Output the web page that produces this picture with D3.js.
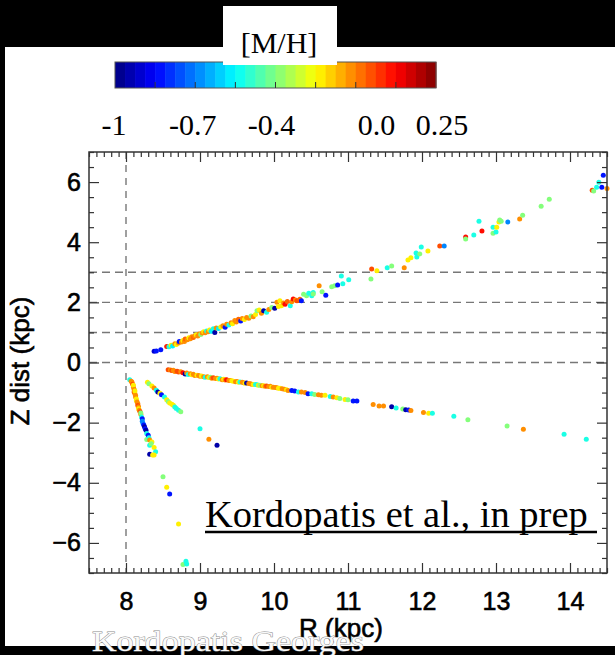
<!DOCTYPE html>
<html><head><meta charset="utf-8">
<script src="https://cdn.jsdelivr.net/npm/d3@7"></script>
<style>html,body{margin:0;padding:0;background:#000;}svg{display:block;}</style>
</head><body>
<svg id="c" width="615" height="655"></svg>
<script>
// ---------- DATA ([R kpc, Z kpc, [M/H]]) ----------
const upperBranch = [
[8.38,0.37,-0.9],[8.41,0.38,-0.82],[8.47,0.42,-0.82],[8.55,0.53,0.06],[8.58,0.52,-0.5],[8.61,0.57,-0.2],[8.63,0.55,-0.55],
[8.66,0.62,-0.08],[8.68,0.60,-0.2],[8.71,0.65,-0.08],[8.72,0.70,-0.82],[8.75,0.68,-0.08],[8.77,0.73,-0.2],[8.79,0.70,-0.08],
[8.80,0.78,-0.03],[8.83,0.76,-0.08],[8.85,0.82,-0.2],[8.87,0.79,-0.08],[8.89,0.86,-0.08],[8.91,0.83,-0.03],[8.93,0.89,-0.08],
[8.95,0.92,-0.2],[8.97,0.88,-0.08],[8.99,0.95,-0.08],[9.01,0.93,-0.37],[9.03,0.98,-0.08],[9.05,1.02,-0.2],[9.07,0.99,-0.08],
[9.09,1.05,-0.5],[9.11,1.02,-0.08],[9.13,1.08,-0.2],[9.15,1.04,-0.55],[9.18,1.12,-0.5],[9.20,1.00,-0.95],[9.22,1.15,-0.08],
[9.25,1.13,-0.55],[9.28,1.18,-0.2],[9.31,1.22,-0.08],[9.34,1.17,-0.82],[9.36,1.27,-0.08],[9.39,1.25,-0.5],[9.42,1.32,-0.08],
[9.44,1.29,-0.2],[9.47,1.40,-0.08],[9.49,1.35,-0.08],[9.52,1.44,-0.03],[9.55,1.38,-0.82],[9.57,1.46,-0.08],[9.60,1.43,-0.2],
[9.63,1.50,-0.08],[9.66,1.47,-0.08],[9.69,1.55,-0.37],[9.72,1.52,-0.08],[9.75,1.60,-0.2],[9.77,1.72,-0.37],[9.80,1.75,-0.2],
[9.83,1.64,-0.08],[9.86,1.72,-0.95],[9.90,1.67,-0.5],[9.93,1.76,-0.08],[9.97,1.83,-0.37],[10.01,1.80,-0.95],[10.04,2.00,-0.08],
[10.06,1.86,-0.2],[10.08,2.05,-0.2],[10.10,1.89,-0.2],[10.13,1.98,-0.08],[10.15,1.94,0.08],[10.18,2.03,-0.03],[10.22,1.89,-0.5],
[10.24,2.02,-0.08],[10.26,2.11,0.08],[10.29,2.08,-0.08],[10.31,2.05,0.0],[10.35,2.10,-0.03],[10.37,2.05,-0.82],[10.40,2.27,-0.37],
[10.44,2.22,-0.37],[10.47,2.30,-0.5],[10.51,2.22,-0.5],[10.53,2.33,-0.5],[10.53,2.28,-0.37],[10.61,2.55,-0.08],[10.65,2.35,-0.37],
[10.70,2.24,-0.82],[10.78,2.52,-0.37],[10.82,2.55,-0.37],[10.86,2.58,-0.82],[10.91,2.88,-0.5],[10.93,2.62,-0.5],[11.01,2.75,-0.5],
[11.31,2.78,-0.37],[11.32,3.11,0.0],[11.39,3.05,-0.2],[11.53,3.15,-0.5],[11.59,3.21,-0.37],[11.76,3.15,-0.08],[11.81,3.41,-0.2],
[11.85,3.48,-0.2],[11.92,3.64,-0.5],[11.93,3.51,-0.5],[11.97,3.61,-0.37],[11.99,3.84,-0.5],[12.08,3.71,-0.2],[12.24,3.87,0.0],
[12.30,3.87,-0.68],[12.59,4.17,0.08],[12.59,4.11,-0.37],[12.70,4.24,-0.5],[12.77,4.70,-0.5],[12.81,4.37,0.08],[12.96,4.50,-0.5],
[12.96,4.30,-0.37],[13.00,4.34,-0.5],[13.01,4.50,-0.2],[13.04,4.67,-0.2],[13.05,4.74,-0.37],[13.07,4.70,-0.37],[13.16,4.67,-0.68],
[13.32,4.77,-0.08],[13.36,4.90,-0.37],[13.61,5.20,-0.37],[13.72,5.43,-0.37],[14.30,5.73,0.0],[14.32,5.70,-0.37],[14.36,5.83,-0.5],
[14.39,5.99,-0.5],[14.43,5.83,-0.82],[14.45,6.23,-0.82],[14.50,5.79,-0.08]
];
const lowerBranch = [
[8.57,-0.24,0.0],[8.60,-0.25,-0.08],[8.62,-0.27,0.0],[8.64,-0.26,-0.08],[8.66,-0.30,-0.08],[8.69,-0.29,0.0],[8.71,-0.32,0.0],
[8.74,-0.31,-0.08],[8.77,-0.34,0.08],[8.80,-0.38,-0.95],[8.82,-0.35,-0.08],[8.84,-0.40,-0.5],[8.87,-0.37,-0.08],[8.89,-0.41,-0.2],
[8.91,-0.39,-0.08],[8.93,-0.43,-0.08],[8.96,-0.42,-0.2],[8.98,-0.43,-0.08],[9.00,-0.46,-0.08],[9.02,-0.45,-0.2],[9.05,-0.47,-0.08],
[9.07,-0.49,-0.5],[9.10,-0.47,-0.08],[9.12,-0.50,-0.2],[9.14,-0.49,-0.37],[9.16,-0.52,-0.08],[9.18,-0.51,0.0],[9.21,-0.53,-0.08],
[9.23,-0.52,-0.08],[9.25,-0.55,-0.2],[9.27,-0.54,-0.5],[9.30,-0.57,-0.08],[9.32,-0.56,-0.2],[9.34,-0.58,-0.08],[9.36,-0.57,0.08],
[9.39,-0.60,-0.08],[9.41,-0.60,-0.08],[9.43,-0.61,-0.2],[9.45,-0.62,-0.2],[9.48,-0.64,-0.08],[9.50,-0.63,-0.08],[9.52,-0.66,-0.2],
[9.54,-0.65,-0.5],[9.57,-0.66,-0.08],[9.59,-0.67,-0.08],[9.61,-0.69,-0.2],[9.63,-0.68,-0.95],[9.66,-0.70,-0.08],[9.68,-0.71,-0.08],
[9.70,-0.72,-0.08],[9.72,-0.73,-0.2],[9.75,-0.73,-0.5],[9.77,-0.74,-0.5],[9.79,-0.76,-0.2],[9.81,-0.76,-0.37],[9.84,-0.77,-0.08],
[9.86,-0.77,-0.2],[9.88,-0.79,-0.08],[9.90,-0.78,0.0],[9.93,-0.80,-0.08],[9.95,-0.79,-0.08],[9.97,-0.82,-0.2],[9.99,-0.82,-0.08],
[10.02,-0.83,-0.08],[10.04,-0.84,-0.08],[10.06,-0.86,-0.2],[10.08,-0.86,-0.2],[10.11,-0.87,-0.08],[10.14,-0.89,-0.08],[10.17,-0.91,-0.2],
[10.19,-0.93,-0.08],[10.24,-0.93,-0.82],[10.28,-0.95,-0.82],[10.33,-0.98,-0.5],[10.37,-0.98,-0.08],[10.42,-1.00,-0.08],
[10.46,-1.04,-0.82],[10.51,-1.04,-0.5],[10.55,-1.06,-0.37],[10.60,-1.07,-0.08],[10.64,-1.09,-0.08],[10.69,-1.09,-0.2],
[10.76,-1.13,-0.5],[10.80,-1.15,-0.08],[10.85,-1.17,-0.2],[10.89,-1.20,-0.37],[10.96,-1.23,-0.2],[11.00,-1.24,-0.37],
[11.07,-1.28,-0.82],[11.12,-1.28,-0.82],
[11.34,-1.40,-0.08],[11.42,-1.45,-0.08],[11.48,-1.45,-0.08],[11.59,-1.47,-0.95],[11.65,-1.51,-0.5],[11.74,-1.55,-0.37],
[11.78,-1.57,-0.95],[11.82,-1.58,-0.82],[11.85,-1.60,-0.08],[12.02,-1.66,-0.08],[12.09,-1.69,-0.2],[12.14,-1.69,-0.5],
[12.43,-1.79,-0.5],[12.62,-1.90,-0.37],[13.15,-2.11,-0.37],[13.37,-2.22,-0.08],[13.92,-2.39,-0.5],[14.22,-2.55,-0.5]
];
const steepFan = [
[8.05,-0.57,-0.5],[8.07,-0.62,-0.08],[8.08,-0.65,-0.08],[8.09,-0.72,0.0],[8.10,-0.82,-0.08],[8.10,-0.76,-0.2],[8.11,-0.90,-0.08],
[8.11,-0.98,0.0],[8.12,-1.04,-0.08],[8.12,-0.95,-0.2],[8.13,-1.10,-0.08],[8.13,-1.15,-0.08],[8.14,-1.21,-0.2],[8.14,-1.26,-0.2],
[8.15,-1.31,-0.08],[8.16,-1.37,-0.08],[8.16,-1.43,0.0],[8.17,-1.48,-0.08],[8.17,-1.54,-0.2],[8.18,-1.59,-0.08],[8.19,-1.64,0.0],
[8.20,-1.72,-0.08],[8.20,-1.68,-0.37],[8.21,-1.81,-0.5],[8.22,-1.87,-0.82],[8.22,-1.95,-0.68],[8.23,-2.03,-0.68],[8.24,-2.08,-0.82],
[8.25,-2.14,-0.95],[8.26,-2.20,-0.82],[8.27,-2.25,-0.95],[8.28,-2.36,-0.5],[8.30,-2.42,-0.82],[8.28,-2.56,-0.37],[8.31,-2.50,-0.5],
[8.32,-2.58,-0.08],[8.35,-2.64,-0.2],[8.32,-2.75,-0.5],[8.34,-2.70,-0.37],[8.38,-2.83,-0.2],[8.40,-2.97,-0.5],[8.32,-3.05,-0.95],
[8.36,-3.08,-0.2],[8.38,-3.08,-0.2]
];
const secondFan = [
[8.29,-0.66,-0.2],[8.31,-0.71,-0.37],[8.35,-0.78,-0.2],[8.38,-0.85,-0.08],[8.41,-0.92,-0.5],[8.43,-0.98,-0.95],[8.46,-1.02,-0.2],
[8.48,-1.07,-0.82],[8.52,-1.15,-0.5],[8.55,-1.24,-0.2],[8.57,-1.30,-0.37],[8.59,-1.35,-0.2],[8.62,-1.39,-0.2],[8.64,-1.42,-0.2],
[8.66,-1.48,-0.5],[8.68,-1.53,-0.5],[8.71,-1.59,-0.5],[8.74,-1.64,-0.37]
];
const isolated = [
[9.00,-2.20,-0.5],[9.12,-2.55,-0.08],[9.23,-2.75,-0.95],[8.50,-3.80,-0.37],[8.55,-4.15,-0.2],[8.59,-4.37,-0.82],
[8.71,-5.37,-0.2],[8.77,-6.72,-0.37],[8.81,-6.61,-0.5],[8.82,-6.70,-0.5]
];
const xTickValues = [8, 9, 10, 11, 12, 13, 14];
const yTickValues = [-6, -4, -2, 0, 2, 4, 6];
const refLinesZ = [0, 1, 2, 3];
const refLineR = 8;
const cbarLabels = [-1, -0.7, -0.4, 0.0, 0.25];
const cbarLabelText = ["-1", "-0.7", "-0.4", "0.0", "0.25"];
const mhDomain = [-1, 0.25];

// ---------- DRAW ----------
const svg = d3.select("#c");
svg.append("rect").attr("width",615).attr("height",655).attr("fill","#000");
svg.append("rect").attr("x",5).attr("y",47).attr("width",610).attr("height",599).attr("fill","#fff");

function jet(t){
  t = Math.max(0, Math.min(1, t));
  const c = v => Math.round(255*Math.max(0, Math.min(1, v)));
  return `rgb(${c(1.5-Math.abs(4*t-3))},${c(1.5-Math.abs(4*t-2))},${c(1.5-Math.abs(4*t-1))})`;
}
const tScale = d3.scaleLinear().domain(mhDomain).range([0,1]);
const color = v => jet(tScale(v));

// colorbar
const cbX = d3.scaleLinear().domain(mhDomain).range([115, 436]);
const nBands = 32;
const bandW = (cbX.range()[1]-cbX.range()[0])/nBands;
const cb = svg.append("g");
cb.selectAll("rect.band").data(d3.range(nBands)).join("rect")
  .attr("x", i => cbX.range()[0] + i*bandW).attr("y", 62).attr("width", bandW+0.5).attr("height", 26)
  .attr("fill", i => jet((i+0.5)/nBands));
cb.append("rect").attr("x",115).attr("y",62).attr("width",321).attr("height",26)
  .attr("fill","none").attr("stroke","#555").attr("stroke-width",1);
cb.selectAll("line.ct").data(d3.range(1,8)).join("line")
  .attr("x1", i => cbX(mhDomain[0] + (mhDomain[1]-mhDomain[0])*i/8))
  .attr("x2", i => cbX(mhDomain[0] + (mhDomain[1]-mhDomain[0])*i/8))
  .attr("y1", 82).attr("y2", 88).attr("stroke","#333").attr("stroke-width",1);
const cbLab = d3.scaleLinear().domain(mhDomain).range([114, 442]);
svg.selectAll("text.cbl").data(cbarLabels).join("text")
  .attr("x", d => cbLab(d)).attr("y", 135).attr("text-anchor","middle")
  .attr("font-family","'Liberation Serif', serif").attr("font-size",30).attr("fill","#000")
  .text((d,i) => cbarLabelText[i]);
// title box
svg.append("rect").attr("x",223).attr("y",6).attr("width",114).attr("height",59).attr("fill","#fff");
svg.append("text").attr("x",279).attr("y",53).attr("text-anchor","middle")
  .attr("font-family","'Liberation Serif', serif").attr("font-size",30).attr("fill","#000").text("[M/H]");

// plot
const L=89, T=152, Rr=607, B=573;
const x = d3.scaleLinear().domain([7.5, 14.5]).range([L, Rr]);
const y = d3.scaleLinear().domain([-7, 7]).range([B, T]);

const ref = svg.append("g").attr("stroke","#777").attr("stroke-width",1.4).attr("stroke-dasharray","8,5");
ref.selectAll("line.h").data(refLinesZ).join("line")
  .attr("x1",L).attr("x2",Rr).attr("y1",d=>y(d)).attr("y2",d=>y(d));
ref.append("line").attr("x1",x(refLineR)).attr("x2",x(refLineR)).attr("y1",T).attr("y2",B).attr("stroke-dasharray","7,6");

const allStars = [...upperBranch, ...lowerBranch, ...steepFan, ...secondFan, ...isolated];
svg.append("g").selectAll("circle").data(allStars).join("circle")
  .attr("cx", d => x(d[0])).attr("cy", d => y(d[1])).attr("r", 2.5)
  .attr("fill", d => color(d[2]));

// axes
const xMinor = d3.range(75, 146).map(v => v/10).filter(v => !xTickValues.includes(v));
const yMinor = d3.range(-14, 15).map(v => v/2).filter(v => !yTickValues.includes(v));
const axisCol = "#333";
function styleAxis(g){ g.select(".domain").remove(); g.selectAll("line").attr("stroke", axisCol).attr("stroke-width",1.2); }
const fontSans = "'Liberation Sans', Arial, sans-serif";
const heavy = s => s.attr("stroke","#000").attr("stroke-width",0.6);

svg.append("g").attr("transform",`translate(0,${B})`)
  .call(d3.axisBottom(x).tickValues(xTickValues).tickSize(-10).tickSizeOuter(0).tickPadding(19).tickFormat(d3.format("d")))
  .call(styleAxis).call(g => g.selectAll("text").attr("font-family",fontSans).attr("font-size",25).attr("fill","#000").call(heavy));
svg.append("g").attr("transform",`translate(0,${B})`)
  .call(d3.axisBottom(x).tickValues(xMinor).tickSize(-5).tickSizeOuter(0).tickFormat(""))
  .call(styleAxis);
svg.append("g").attr("transform",`translate(0,${T})`)
  .call(d3.axisTop(x).tickValues(xTickValues).tickSize(-10).tickSizeOuter(0).tickFormat(""))
  .call(styleAxis);
svg.append("g").attr("transform",`translate(0,${T})`)
  .call(d3.axisTop(x).tickValues(xMinor).tickSize(-5).tickSizeOuter(0).tickFormat(""))
  .call(styleAxis);
svg.append("g").attr("transform",`translate(${L},0)`)
  .call(d3.axisLeft(y).tickValues(yTickValues).tickSize(-10).tickSizeOuter(0).tickPadding(8).tickFormat(d => d < 0 ? "\u2212" + Math.abs(d) : String(d)))
  .call(styleAxis).call(g => g.selectAll("text").attr("font-family",fontSans).attr("font-size",25).attr("fill","#000").call(heavy));
svg.append("g").attr("transform",`translate(${L},0)`)
  .call(d3.axisLeft(y).tickValues(yMinor).tickSize(-5).tickSizeOuter(0).tickFormat(""))
  .call(styleAxis);
svg.append("g").attr("transform",`translate(${Rr},0)`)
  .call(d3.axisRight(y).tickValues(yTickValues).tickSize(-10).tickSizeOuter(0).tickFormat(""))
  .call(styleAxis);
svg.append("g").attr("transform",`translate(${Rr},0)`)
  .call(d3.axisRight(y).tickValues(yMinor).tickSize(-5).tickSizeOuter(0).tickFormat(""))
  .call(styleAxis);
svg.append("rect").attr("x",L).attr("y",T).attr("width",Rr-L).attr("height",B-T)
  .attr("fill","none").attr("stroke",axisCol).attr("stroke-width",1.5);

// axis titles
svg.append("text").attr("x",341).attr("y",637).attr("text-anchor","middle")
  .attr("font-family",fontSans).attr("font-size",26).attr("fill","#000").call(heavy).text("R (kpc)");
svg.append("text").attr("transform","translate(29,361) rotate(-90)").attr("text-anchor","middle")
  .attr("font-family",fontSans).attr("font-size",26).attr("fill","#000").call(heavy).text("Z dist (kpc)");

// annotation
svg.append("text").attr("x",205).attr("y",527)
  .attr("font-family","'Liberation Serif', serif").attr("font-size",38.5).attr("fill","#000")
  .text("Kordopatis et al., in prep");
svg.append("line").attr("x1",205).attr("x2",597).attr("y1",532).attr("y2",532).attr("stroke","#000").attr("stroke-width",2.5);

// author watermark
svg.append("text").attr("x",92).attr("y",651)
  .attr("font-family","'Liberation Serif', serif").attr("font-size",30).attr("textLength",272).attr("lengthAdjust","spacingAndGlyphs")
  .attr("fill","#fafafa").attr("stroke","#8a8a8a").attr("stroke-width",0.9).attr("paint-order","stroke")
  .text("Kordopatis Georges");
</script>
</body></html>
